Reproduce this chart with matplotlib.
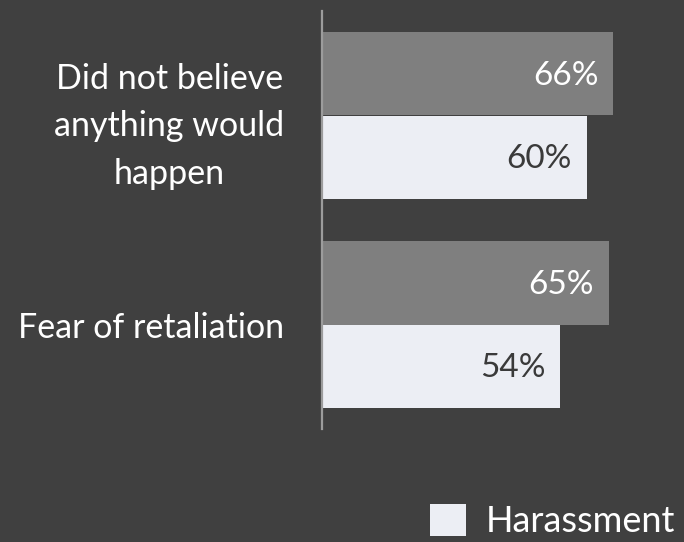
import matplotlib
matplotlib.use("Agg")
import matplotlib.pyplot as plt
import numpy as np

plt.rcParams['font.family'] = ['Lato', 'DejaVu Sans']

categories = ["Did not believe\nanything would\nhappen", "Fear of retaliation"]
series_dark = [66, 65]
series_light = [60, 54]
legend_label = "Harassment"

bg = "#404040"
dark_color = "#7f7f7f"
light_color = "#eceef4"

fig = plt.figure(figsize=(6.84, 5.42), dpi=100, facecolor=bg)
ax = fig.add_axes([322 / 684, 1 - 429 / 542, 1 - 322 / 684, 418 / 542])
ax.set_facecolor(bg)

y = np.arange(len(categories))
h = 0.4
bars_dark = ax.barh(y - h / 2, series_dark, height=h, color=dark_color)
bars_light = ax.barh(y + h / 2, series_light, height=h, color=light_color,
                     label=legend_label)

for rect, v in zip(bars_dark, series_dark):
    ax.text(v - 3.4, rect.get_y() + rect.get_height() / 2 + 0.01, f"{v}%",
            ha="right", va="center", color="white", fontsize=24)
for rect, v in zip(bars_light, series_light):
    ax.text(v - 3.4, rect.get_y() + rect.get_height() / 2 + 0.01, f"{v}%",
            ha="right", va="center", color="#3a3a3a", fontsize=24)

ax.set_xlim(0, 82)
ax.set_ylim(1.5, -0.5)
ax.set_yticks(y)
ax.set_yticklabels(categories, fontsize=24.5, color="white",
                   multialignment="center", linespacing=1.6)
ax.tick_params(axis="y", length=0, pad=27)
ax.set_xticks([])
for s in ["top", "right", "bottom"]:
    ax.spines[s].set_visible(False)
ax.spines["left"].set_color("#9c9c9c")
ax.spines["left"].set_linewidth(1.6)

fig.legend(handles=[bars_light], labels=[legend_label], loc="lower right",
           bbox_to_anchor=(0.993, 0.0), frameon=False, fontsize=26,
           labelcolor="white", handlelength=1.0, handleheight=1.0,
           handletextpad=0.55, borderpad=0.1, borderaxespad=0.0)

fig.savefig("out.png", dpi=100, facecolor=bg)
